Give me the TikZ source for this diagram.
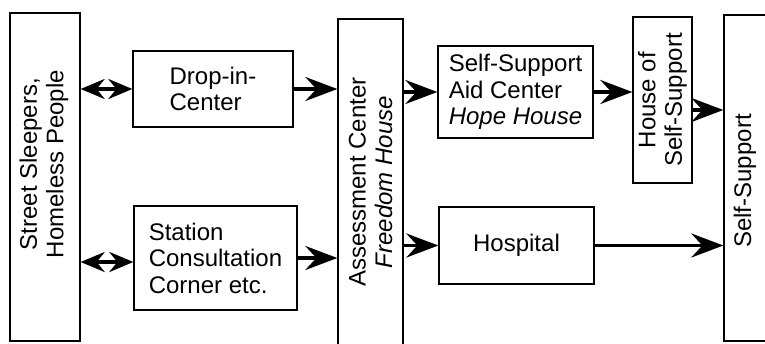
\documentclass[tikz,border=0pt]{standalone}
\usepackage{fontspec}
\setmainfont{Liberation Sans}
\usetikzlibrary{arrows.meta}

\tikzset{
  box/.style={draw, line width=1.3pt, inner sep=0pt, align=center},
  flow/.style={draw, line width=3.5pt, -{Stealth[length=32pt,width=24pt,inset=11pt]}},
  twoway/.style={draw, line width=3.5pt,
    {Stealth[length=24pt,width=20pt,inset=8pt]}-{Stealth[length=24pt,width=20pt,inset=8pt]}},
}

\begin{document}
\begin{tikzpicture}[x=1pt,y=-1pt,
    every node/.style={font=\fontsize{24}{26.5}\selectfont}]
    \useasboundingbox (0,0) rectangle (765,343);
    \clip (0,0) rectangle (765,343);

    \node[box, minimum width=70pt, minimum height=328pt] (street) at (45,177) {};
    \node[rotate=90, align=center] (streettxt) at (44,164) {Street Sleepers,\\Homeless People};
    \node[box, align=left, minimum width=160pt, minimum height=76pt] (drop) at (213,89) {Drop-in-\\Center};
    \node[box, align=left, minimum width=163pt, minimum height=104pt] (station) at (215.5,258) {Station\\Consultation\\Corner etc.};
    \node[box, rotate=90, minimum width=326pt, minimum height=65pt] (assess) at (370.5,182)
      {Assessment Center\\\textit{Freedom House}};
    \node[box, align=left, minimum width=155pt, minimum height=92pt] (aid) at (515.5,92)
      {Self-Support\\Aid Center\\\textit{Hope House}};
    \node[box, minimum width=155pt, minimum height=77pt] (hosp) at (516.5,245.5) {Hospital};
    \node[box, rotate=90, minimum width=166pt, minimum height=59pt] (house) at (662.5,100) {House of\\Self-Support};
    \node[box, minimum width=66pt, minimum height=326pt] (self) at (757,178) {};
    \node[rotate=90] (selftxt) at (745,181) {Self-Support};

    \draw[twoway] (drop.west -| street.east) -- (drop.west);
    \draw[twoway] ([yshift=-4pt]station.west -| street.east) -- ([yshift=-4pt]station.west);
    \draw[flow] (drop.east) -- (drop.east -| assess.north);
    \draw[flow] (station.east) -- (station.east -| assess.north);
    \draw[flow] (aid.west -| assess.south) -- (aid.west);
    \draw[flow] (hosp.west -| assess.south) -- (hosp.west);
    \draw[flow] (aid.east) -- (aid.east -| house.north);
    \draw[flow] ([yshift=-10pt]house.south) -- ([yshift=-10pt]house.south -| self.west);
    \draw[flow] (hosp.east) -- (hosp.east -| self.west);
\end{tikzpicture}
\end{document}
